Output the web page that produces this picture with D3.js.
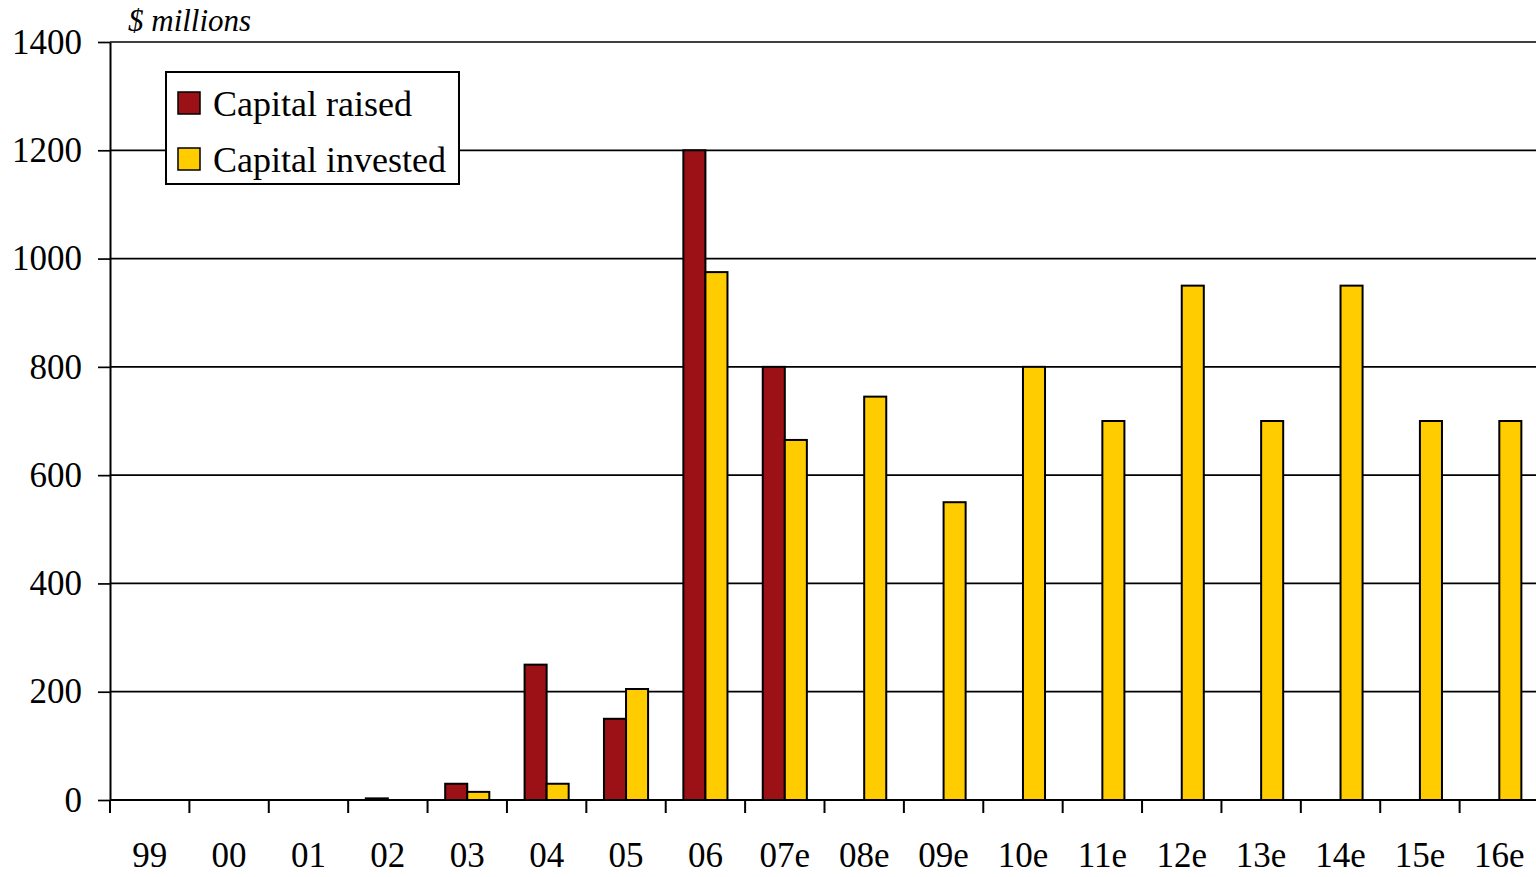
<!DOCTYPE html>
<html>
<head>
<meta charset="utf-8">
<script src="https://cdn.jsdelivr.net/npm/d3@7"></script>
<style>
  html, body { margin: 0; padding: 0; background: #fff; }
  svg { display: block; font-family: "Liberation Serif", "Times New Roman", serif; }
</style>
</head>
<body>
<div id="chart"></div>
<script>
// chart data
var years = ["99", "00", "01", "02", "03", "04", "05", "06", "07e", "08e", "09e", "10e", "11e", "12e", "13e", "14e", "15e", "16e"];
var capitalRaised = [0, 0, 0, 3, 30, 250, 150, 1200, 800, 0, 0, 0, 0, 0, 0, 0, 0, 0];
var capitalInvested = [0, 0, 0, 0, 15, 30, 205, 975, 665, 745, 550, 800, 700, 950, 700, 950, 700, 700];
var seriesNames = ["Capital raised", "Capital invested"];
var seriesColors = ["#9b1116", "#ffcc00"];
var yTicks = [0, 200, 400, 600, 800, 1000, 1200, 1400];

var width = 1536,
    height = 877,
    margin = { top: 42, right: -3, bottom: 77, left: 110 };

var svg = d3.select("#chart").append("svg")
    .attr("width", width)
    .attr("height", height);

var g = svg.append("g")
    .attr("transform", "translate(" + margin.left + "," + margin.top + ")");

var innerW = width - margin.left - margin.right,
    innerH = height - margin.top - margin.bottom;

var x0 = d3.scaleBand().domain(years).range([0, innerW]).padding(0);
var x1 = d3.scaleBand().domain(seriesNames).range([0, x0.bandwidth()])
    .paddingInner(0).paddingOuter(0.8);
var y = d3.scaleLinear().domain([0, 1400]).range([innerH, 0]);

// gridlines
g.selectAll("line.grid")
    .data(yTicks.filter(d => d > 0))
    .enter().append("line")
    .attr("class", "grid")
    .attr("x1", 0).attr("x2", innerW + 10)
    .attr("y1", d => y(d)).attr("y2", d => y(d))
    .attr("stroke", "#000").attr("stroke-width", 1.7);

// y axis
var yAxis = g.append("g")
    .call(d3.axisLeft(y).tickValues(yTicks).tickFormat(d3.format("d"))
        .tickSize(12).tickPadding(16).tickSizeOuter(0));
yAxis.select(".domain").attr("stroke-width", 2);
yAxis.selectAll(".tick line").attr("stroke-width", 1.7);
yAxis.selectAll("text")
    .style("font-family", "'Liberation Serif', serif")
    .style("font-size", "35px")
    .attr("fill", "#000");

// bars
var rows = years.map((yr, i) => ({ year: yr, values: [capitalRaised[i], capitalInvested[i]] }));

var groups = g.selectAll("g.year")
    .data(rows)
    .enter().append("g")
    .attr("class", "year")
    .attr("transform", d => "translate(" + x0(d.year) + ",0)");

groups.selectAll("rect")
    .data(d => d.values.map((v, j) => ({ name: seriesNames[j], value: v, color: seriesColors[j] })).filter(d => d.value > 0))
    .enter().append("rect")
    .attr("x", d => x1(d.name))
    .attr("width", x1.bandwidth())
    .attr("y", d => y(d.value))
    .attr("height", d => innerH - y(d.value))
    .attr("fill", d => d.color)
    .attr("stroke", "#000")
    .attr("stroke-width", 2);

// x axis
var xAxis = g.append("g")
    .attr("transform", "translate(0," + innerH + ")")
    .call(d3.axisBottom(x0).tickSize(0).tickPadding(42));
xAxis.select(".domain").remove();
xAxis.selectAll("text")
    .style("font-family", "'Liberation Serif', serif")
    .style("font-size", "35px")
    .attr("fill", "#000");

g.append("line")
    .attr("x1", 0).attr("x2", innerW + 10)
    .attr("y1", innerH).attr("y2", innerH)
    .attr("stroke", "#000").attr("stroke-width", 2);

// category separator ticks
g.selectAll("line.sep")
    .data(years)
    .enter().append("line")
    .attr("class", "sep")
    .attr("x1", d => x0(d)).attr("x2", d => x0(d))
    .attr("y1", innerH).attr("y2", innerH + 13)
    .attr("stroke", "#000").attr("stroke-width", 2);

// unit label
svg.append("text")
    .attr("x", 128).attr("y", 31)
    .style("font-size", "31px")
    .style("font-style", "italic")
    .text("$ millions");

// legend
var legend = svg.append("g").attr("transform", "translate(166,72)");
legend.append("rect")
    .attr("width", 293).attr("height", 112)
    .attr("fill", "#fff").attr("stroke", "#000").attr("stroke-width", 2);

var items = legend.selectAll("g.item")
    .data(seriesNames)
    .enter().append("g")
    .attr("class", "item")
    .attr("transform", (d, i) => "translate(12," + (20 + i * 56) + ")");

items.append("rect")
    .attr("width", 22).attr("height", 22)
    .attr("fill", (d, i) => seriesColors[i])
    .attr("stroke", "#000").attr("stroke-width", 1.5);

items.append("text")
    .attr("x", 35).attr("y", 24)
    .style("font-size", "36px")
    .text(d => d);
</script>
</body>
</html>
